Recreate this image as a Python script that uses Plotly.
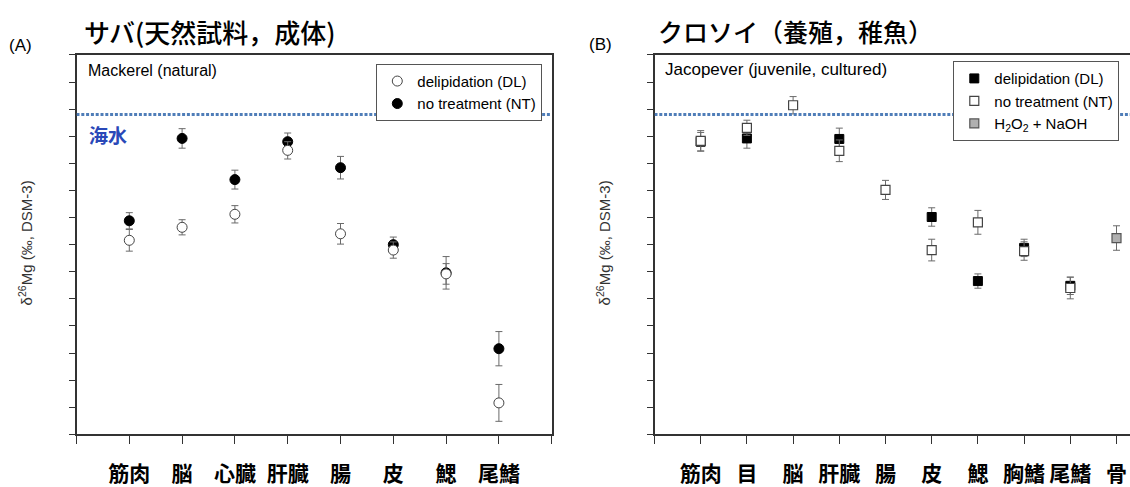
import plotly.graph_objects as go

W, H = 1130, 487

# ---------------- data ----------------
cats_a = ["筋肉", "脳", "心臓", "肝臓", "腸", "皮", "鰓", "尾鰭"]
a_dl = [-1.96, -1.84, -1.72, -1.13, -1.90, -2.05, -2.27, -3.46]
a_dl_err = [0.10, 0.07, 0.08, 0.08, 0.095, 0.075, 0.095, 0.17]
a_nt = [-1.78, -1.02, -1.40, -1.05, -1.29, -2.00, -2.26, -2.96]
a_nt_err = [0.075, 0.09, 0.087, 0.08, 0.104, 0.07, 0.15, 0.158]

cats_b = ["筋肉", "目", "脳", "肝臓", "腸", "皮", "鰓", "胸鰭", "尾鰭", "骨"]
b_dl = [-1.05, -1.02, None, -1.025, None, -1.745, -2.336, -2.03, -2.38, None]
b_dl_err = [0.085, 0.09, None, 0.10, None, 0.085, 0.066, 0.08, 0.08, None]
b_nt = [-1.043, -0.922, -0.714, -1.134, -1.495, -2.05, -1.794, -2.059, -2.40, None]
b_nt_err = [0.095, 0.07, 0.08, 0.10, 0.088, 0.10, 0.11, 0.085, 0.10, None]
b_h2o2 = [None, None, None, None, None, None, None, None, None, -1.939]
b_h2o2_err = [None, None, None, None, None, None, None, None, None, 0.113]

seawater = -0.80
y_range = [-3.75, -0.25]
y_dtick = 0.25

# ---------------- layout helpers (pixel -> paper) ----------------
def px(x):
    return x / W

def py(y):
    return 1 - y / H

xa_left, xa_right = 76.5, 551.7
xb_left, xb_step = 654.5, 46.2
y_top, y_bot = 56, 442.5

xs_a = list(range(1, len(cats_a) + 1))
xs_b = list(range(1, len(cats_b) + 1))

LATIN = "Liberation Sans, Arial, sans-serif"
CJK = "Noto Sans CJK JP"
ERR = dict(type="data", thickness=1, width=3.5, color="#6a6a6a")

fig = go.Figure()

# Panel A (NT drawn first, DL on top)
fig.add_trace(go.Scatter(
    x=xs_a, y=a_nt, mode="markers", name="no treatment (NT)",
    marker=dict(symbol="circle", size=10, color="black", line=dict(color="black", width=1)),
    error_y=dict(array=a_nt_err, **ERR), xaxis="x", yaxis="y",
    legend="legend", legendrank=2))
fig.add_trace(go.Scatter(
    x=xs_a, y=a_dl, mode="markers", name="delipidation (DL)",
    marker=dict(symbol="circle", size=10, color="white", line=dict(color="#444", width=1)),
    error_y=dict(array=a_dl_err, **ERR), xaxis="x", yaxis="y",
    legend="legend", legendrank=1))

# Panel B
fig.add_trace(go.Scatter(
    x=xs_b, y=b_dl, mode="markers", name="delipidation (DL)",
    marker=dict(symbol="square", size=9, color="black", line=dict(color="black", width=1)),
    error_y=dict(array=b_dl_err, **ERR), xaxis="x2", yaxis="y2",
    legend="legend2", legendrank=1))
fig.add_trace(go.Scatter(
    x=xs_b, y=b_nt, mode="markers", name="no treatment (NT)",
    marker=dict(symbol="square", size=9, color="white", line=dict(color="#444", width=1.2)),
    error_y=dict(array=b_nt_err, **ERR), xaxis="x2", yaxis="y2",
    legend="legend2", legendrank=2))
fig.add_trace(go.Scatter(
    x=xs_b, y=b_h2o2, mode="markers", name="H<sub>2</sub>O<sub>2</sub> + NaOH",
    marker=dict(symbol="square", size=9, color="#b0b0b0", line=dict(color="#555", width=1.2)),
    error_y=dict(array=b_h2o2_err, **ERR), xaxis="x2", yaxis="y2",
    legend="legend2", legendrank=3))

axis_common = dict(showgrid=False, zeroline=False, showline=True, linecolor="#333",
                   linewidth=1.5, ticks="outside", tickcolor="#333")
x_minor = dict(ticks="outside", ticklen=8, tickcolor="#333", dtick=1, tick0=0, showgrid=False)

xa_range = [0, len(cats_a) + 1]
xb_range = [0, (W - xb_left) / xb_step]

fig.update_layout(
    width=W, height=H, margin=dict(l=0, r=0, t=0, b=0),
    paper_bgcolor="white", plot_bgcolor="white",
    xaxis=dict(domain=[px(xa_left), px(xa_right)], range=xa_range,
               tickvals=xs_a, ticktext=cats_a, minor=x_minor,
               ticklen=8, mirror=True, anchor="y",
               tickfont=dict(family=CJK, size=21, color="black", weight="bold"),
               ticklabelstandoff=12, **axis_common),
    yaxis=dict(domain=[py(y_bot), py(y_top)], range=y_range, dtick=y_dtick, tick0=y_range[1],
               ticklen=6, showticklabels=False, mirror=True, anchor="x", **axis_common),
    xaxis2=dict(domain=[px(xb_left), 1.0], range=xb_range,
                tickvals=xs_b, ticktext=cats_b, minor=x_minor,
                ticklen=8, mirror=True, anchor="y2",
                tickfont=dict(family=CJK, size=21, color="black", weight="bold"),
                ticklabelstandoff=12, **axis_common),
    yaxis2=dict(domain=[py(y_bot), py(y_top)], range=y_range, dtick=y_dtick, tick0=y_range[1],
                ticklen=6, showticklabels=False, mirror=False, anchor="x2", **axis_common),
    legend=dict(x=px(542.3), y=py(65), xanchor="right", yanchor="top",
                bgcolor="white", bordercolor="#555", borderwidth=1,
                font=dict(family=LATIN, size=15, color="black"), tracegroupgap=0),
    legend2=dict(x=px(1119.3), y=py(62.3), xanchor="right", yanchor="top",
                 bgcolor="white", bordercolor="#555", borderwidth=1,
                 font=dict(family=LATIN, size=15, color="black"), tracegroupgap=0),
    showlegend=True,
)

# seawater lines
sw_line = dict(color="#4f7db8", width=3, dash="3px,1.8px")
fig.add_shape(type="line", xref="x", yref="y", x0=xa_range[0], x1=xa_range[1],
              y0=seawater, y1=seawater, line=sw_line)
fig.add_shape(type="line", xref="x2", yref="y2", x0=xb_range[0], x1=xb_range[1],
              y0=seawater, y1=seawater, line=sw_line)

ann = []
ann.append(dict(text="海水", x=px(86.5), y=py(137.5), xanchor="left", yanchor="middle",
                font=dict(family=CJK, size=19, color="#2a48b8", weight="bold")))
ann.append(dict(text="Mackerel (natural)", x=px(86), y=py(72), xanchor="left", yanchor="middle",
                font=dict(family=LATIN, size=16, color="black")))
ann.append(dict(text="Jacopever (juvenile, cultured)", x=px(663), y=py(71), xanchor="left",
                yanchor="middle", font=dict(family=LATIN, size=17, color="black")))
ann.append(dict(text="サバ(天然試料，成体)", x=px(82), y=py(32), xanchor="left", yanchor="middle",
                font=dict(family=CJK, size=26, color="black", weight=500)))
ann.append(dict(text="クロソイ（養殖，稚魚）", x=px(656), y=py(32), xanchor="left", yanchor="middle",
                font=dict(family=CJK, size=25, color="black", weight=500)))
ann.append(dict(text="(A)", x=px(7), y=py(46.5), xanchor="left", yanchor="middle",
                font=dict(family=LATIN, size=17, color="black")))
ann.append(dict(text="(B)", x=px(586.5), y=py(45), xanchor="left", yanchor="middle",
                font=dict(family=LATIN, size=17, color="black")))
ytitle = "δ<sup>26</sup>Mg (‰, DSM-3)"
ann.append(dict(text=ytitle, x=px(25), y=py(248), xanchor="center", yanchor="middle",
                textangle=-90, font=dict(family=LATIN, size=15, color="#333")))
ann.append(dict(text=ytitle, x=px(603), y=py(248), xanchor="center", yanchor="middle",
                textangle=-90, font=dict(family=LATIN, size=15, color="#333")))
for a in ann:
    a.update(xref="paper", yref="paper", showarrow=False)
fig.update_layout(annotations=ann)

fig.write_html("out.html", config={"displayModeBar": False},
               post_script="document.body.style.margin='0';document.body.style.overflow='hidden';")
